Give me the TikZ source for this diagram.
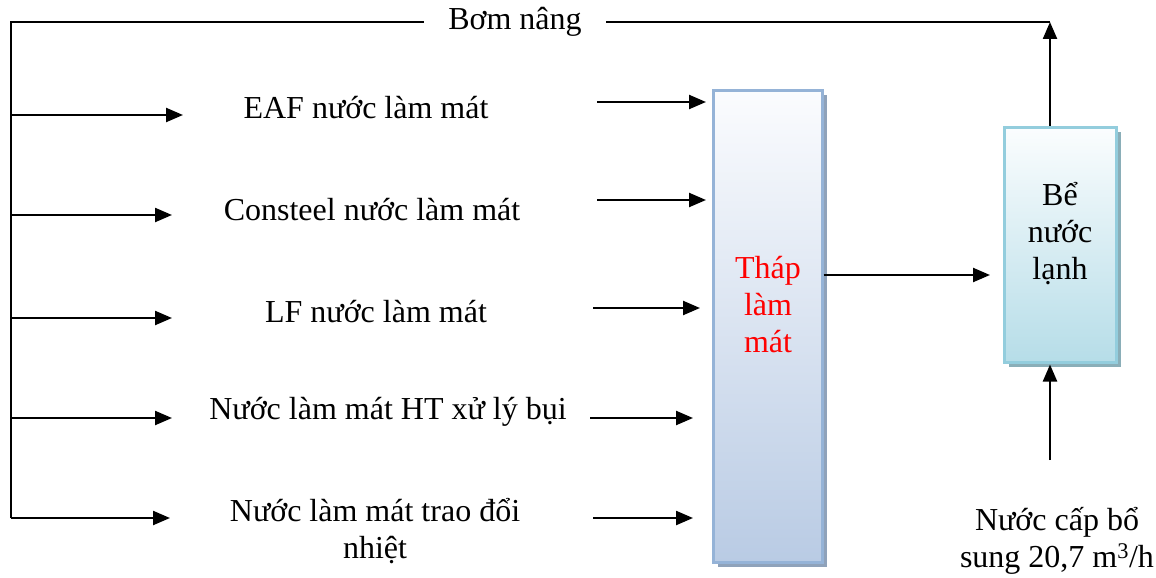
\documentclass[tikz,border=0pt]{standalone}
\usepackage{fontspec}
\setmainfont{Liberation Serif}
\usetikzlibrary{arrows.meta,shadows}
\definecolor{towerline}{HTML}{95B3D7}
\definecolor{towertop}{HTML}{FBFCFE}
\definecolor{towerbot}{HTML}{B9CBE4}
\definecolor{towershadow}{HTML}{8FA2BA}
\definecolor{tankline}{HTML}{93CDDD}
\definecolor{tanktop}{HTML}{FBFDFE}
\definecolor{tankbot}{HTML}{B6DDE8}
\definecolor{tankshadow}{HTML}{8AAEB8}
\begin{document}
\begin{tikzpicture}[x=1pt,y=-1pt,
  line width=2.3pt,
  arr/.style={-{Triangle[length=17pt,width=14pt]}},
  txt/.style={font=\fontsize{32}{37}\selectfont, align=center, inner sep=0pt},
  tower/.style={draw=towerline, line width=3pt, top color=towertop, bottom color=towerbot,
    minimum width=109pt, minimum height=472pt, inner sep=0pt,
    drop shadow={shadow xshift=5pt, shadow yshift=-5pt, fill=towershadow, opacity=1}},
  tank/.style={draw=tankline, line width=3pt, top color=tanktop, bottom color=tankbot,
    minimum width=112pt, minimum height=235pt, inner sep=0pt,
    drop shadow={shadow xshift=5pt, shadow yshift=-5pt, fill=tankshadow, opacity=1}}]
\useasboundingbox (0,0) rectangle (1156,578);

% main units
\node[tower] (tower) at (767.5,326) {};
\node[tank] (tank) at (1060,244.5) {};
\node[txt, text=red] (towerlabel) at (768,305) {Tháp\\làm\\mát};
\node[txt] (tanklabel) at (1060,234) {Bể\\nước\\lạnh};

% pump line along the top
\node[txt, minimum width=180pt, minimum height=30pt] (pump) at (515,22) {Bơm nâng};
\coordinate (tl) at (11,22);
\coordinate (bl) at (11,518);
\coordinate (tr) at (1050,22);
\draw (bl) -- (tl) -- (pump.west);
\draw (pump.east) -- (tr);
\draw[arr] ([xshift=-10pt]tank.north) -- (tr);

% feed branches and the streams they supply
\node[txt] (eaf) at (366,108) {EAF nước làm mát};
\node[txt] (cons) at (372,210) {Consteel nước làm mát};
\node[txt] (lf) at (376,312) {LF nước làm mát};
\node[txt] (dust) at (388,412) {Nước làm mát HT xử lý bụi};
\node[txt] (heat) at (375,531) {Nước làm mát trao đổi\\nhiệt};

\coordinate (b1) at (11,115); \coordinate (e1) at (183,115);
\coordinate (b2) at (11,215); \coordinate (e2) at (172,215);
\coordinate (b3) at (11,318); \coordinate (e3) at (172,318);
\coordinate (b4) at (11,418); \coordinate (e4) at (172,418);
\coordinate (b5) at (11,518); \coordinate (e5) at (170,518);
\foreach \i in {1,...,5} {\draw[arr] (b\i) -- (e\i);}

% streams entering the cooling tower
\coordinate (s1) at (597,102); \coordinate (t1) at (706,102);
\coordinate (s2) at (597,200); \coordinate (t2) at (706,200);
\coordinate (s3) at (593,308); \coordinate (t3) at (700,308);
\coordinate (s4) at (590,418); \coordinate (t4) at (693,418);
\coordinate (s5) at (593,518); \coordinate (t5) at (693,518);
\foreach \i in {1,...,5} {\draw[arr] (s\i) -- (t\i);}

% tower to cold water tank
\coordinate (tankin) at (990,275);
\draw[arr] ([yshift=51pt]tower.east) -- (tankin);

% make-up water
\node[txt] (makeup) at (1057,541) {Nước cấp bổ\\sung 20,7 m\textsuperscript{3}/h};
\coordinate (mu) at (1050,460);
\draw[arr] (mu) -- ([xshift=-10pt,yshift=-1pt]tank.south);
\end{tikzpicture}
\end{document}
